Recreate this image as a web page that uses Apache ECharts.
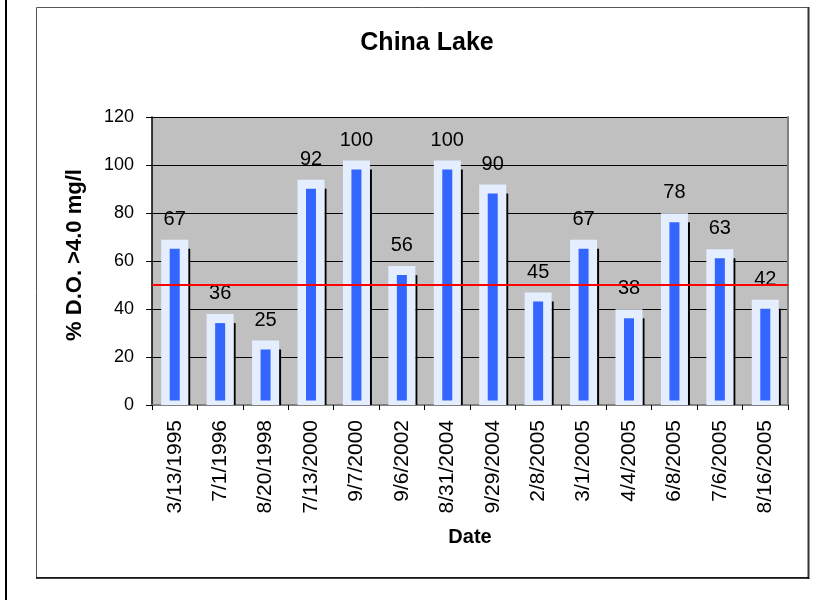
<!DOCTYPE html>
<html>
<head>
<meta charset="utf-8">
<script src="https://cdn.jsdelivr.net/npm/echarts@6/dist/echarts.min.js"></script>
<style>
  html, body { margin: 0; padding: 0; background: #ffffff; }
  #chart { width: 830px; height: 600px; }
</style>
</head>
<body>
<div id="chart"></div>
<script>
// Sampling dates and percentage of the water column with dissolved oxygen above 4.0 mg/l
const sampleDates = ['3/13/1995', '7/1/1996', '8/20/1998', '7/13/2000', '9/7/2000', '9/6/2002',
  '8/31/2004', '9/29/2004', '2/8/2005', '3/1/2005', '4/4/2005', '6/8/2005', '7/6/2005', '8/16/2005'];
const pctAbove4 = [67, 36, 25, 92, 100, 56, 100, 90, 45, 67, 38, 78, 63, 42];
const yMin = 0, yMax = 120, yStep = 20;
const threshold = 50;

const FONT = '"Liberation Sans", Arial, sans-serif';
const PALE = '#E4EEFF';
const BLUE = '#3366FF';

const chart = echarts.init(document.getElementById('chart'), null, { renderer: 'canvas' });

// Framed bar: pale outer band, blue core, thin dark shadow on the right, value label above
function renderFramedBar(params, api) {
  const idx = api.value(0);
  const v = api.value(1);
  const top = api.coord([idx, v]);
  const base = api.coord([idx, 0]);
  const cx = top[0];
  const outerW = 27, innerW = 10, pad = 4.5;
  return {
    type: 'group',
    children: [
      { type: 'rect', shape: { x: cx + outerW / 2, y: top[1] + pad, width: 2, height: base[1] - top[1] - pad },
        style: { fill: '#000000' } },
      { type: 'rect', shape: { x: cx - outerW / 2, y: top[1] - pad, width: outerW, height: base[1] - top[1] + pad },
        style: { fill: PALE } },
      { type: 'rect', shape: { x: cx - innerW / 2, y: top[1] + pad, width: innerW, height: base[1] - top[1] - 2 * pad },
        style: { fill: BLUE } },
      { type: 'text', x: cx, y: top[1] - 25,
        style: { text: String(v), fill: '#000000', fontSize: 20, fontFamily: FONT, align: 'center', verticalAlign: 'middle' } }
    ]
  };
}

const option = {
  backgroundColor: '#ffffff',
  animation: false,
  title: {
    text: 'China Lake',
    left: 422,
    top: 26,
    textAlign: 'center',
    textStyle: { fontFamily: FONT, fontSize: 25, fontWeight: 'bold', color: '#000000' }
  },
  graphic: [
    { type: 'rect', shape: { x: 36.5, y: 7.5, width: 772, height: 570 },
      style: { fill: null, stroke: '#555555', lineWidth: 1 }, z: -10 },
    { type: 'line', shape: { x1: 808.5, y1: 7, x2: 808.5, y2: 579 }, style: { stroke: '#333333', lineWidth: 2 } },
    { type: 'line', shape: { x1: 36, y1: 578, x2: 809, y2: 578 }, style: { stroke: '#000000', lineWidth: 1.5 } },
    { type: 'line', shape: { x1: 6, y1: 0, x2: 6, y2: 600 }, style: { stroke: '#000000', lineWidth: 2 } }
  ],
  grid: {
    left: 152, top: 117, width: 636, height: 288,
    show: true, backgroundColor: '#C0C0C0', borderWidth: 0
  },
  xAxis: [
    {
      type: 'category',
      data: sampleDates,
      position: 'bottom',
      name: 'Date',
      nameLocation: 'middle',
      nameGap: 122,
      nameTextStyle: { fontFamily: FONT, fontSize: 20, fontWeight: 'bold', color: '#000000' },
      axisLine: { show: true, lineStyle: { color: '#000000', width: 1.5 } },
      axisTick: { show: true, length: 5, lineStyle: { color: '#000000' } },
      axisLabel: { rotate: 90, interval: 0, margin: 15, fontFamily: FONT, fontSize: 21, color: '#000000' },
      splitLine: { show: false }
    },
    {
      type: 'category',
      data: sampleDates,
      position: 'top',
      axisLine: { show: true, lineStyle: { color: '#808080', width: 2 } },
      axisTick: { show: false },
      axisLabel: { show: false },
      splitLine: { show: false }
    }
  ],
  yAxis: [
    {
      type: 'value',
      min: yMin, max: yMax, interval: yStep,
      name: '% D.O. >4.0 mg/l',
      nameLocation: 'middle',
      nameGap: 66,
      nameTextStyle: { fontFamily: FONT, fontSize: 22, fontWeight: 'bold', color: '#000000', padding: [0, 0, 0, 12] },
      axisLine: { show: true, lineStyle: { color: '#000000', width: 1.5 } },
      axisTick: { show: true, length: 6, lineStyle: { color: '#000000' } },
      axisLabel: { margin: 18, fontFamily: FONT, fontSize: 18, color: '#000000' },
      splitLine: { show: true, lineStyle: { color: '#000000', width: 1 } }
    },
    {
      type: 'value',
      min: yMin, max: yMax, interval: yStep,
      position: 'right',
      axisLine: { show: true, lineStyle: { color: '#808080', width: 2 } },
      axisTick: { show: false },
      axisLabel: { show: false },
      splitLine: { show: false }
    }
  ],
  series: [
    {
      type: 'custom',
      name: '% D.O. >4.0 mg/l',
      xAxisIndex: 0, yAxisIndex: 0,
      renderItem: renderFramedBar,
      encode: { x: 0, y: 1 },
      data: pctAbove4.map((v, i) => [i, v]),
      z: 2
    },
    {
      type: 'line',
      name: 'threshold',
      xAxisIndex: 0, yAxisIndex: 0,
      data: [],
      z: 5,
      markLine: {
        silent: true,
        symbol: ['none', 'none'],
        label: { show: false },
        lineStyle: { color: '#FF0000', width: 2, type: 'solid' },
        data: [{ yAxis: threshold }]
      }
    }
  ]
};

chart.setOption(option);
</script>
</body>
</html>
